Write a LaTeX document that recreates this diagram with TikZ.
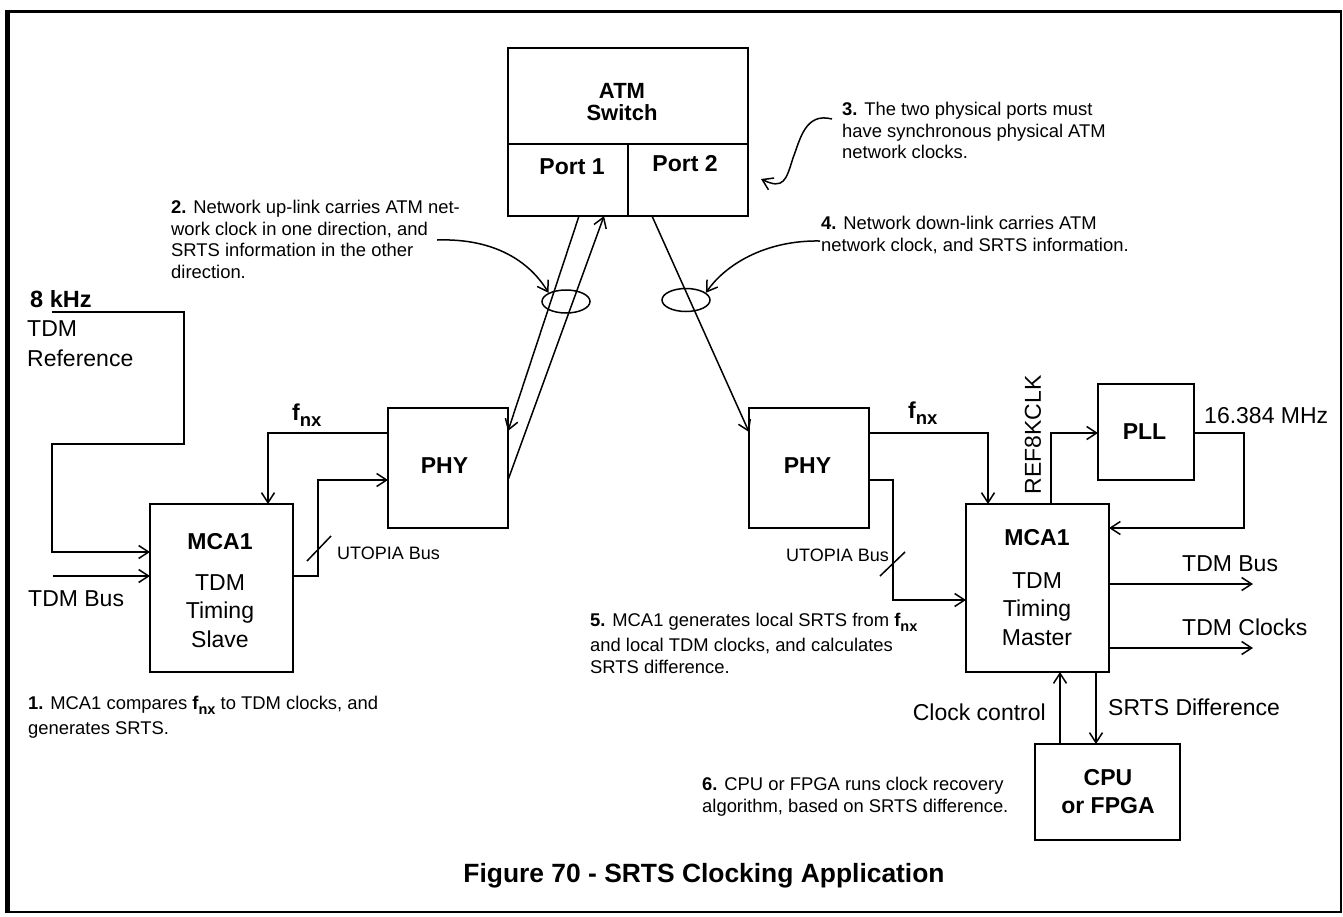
\documentclass[tikz,border=0pt]{standalone}
\usepackage{fontspec}
\setmainfont{Liberation Sans}
\usetikzlibrary{arrows.meta,shapes.geometric}
\newcommand{\fnxlbl}[2]{\textbf{f\raisebox{-#2}{\fontsize{#1}{#1}\selectfont nx}}}
\tikzset{
  box/.style={draw, line width=2pt, inner sep=0pt, outer sep=0pt, rectangle},
  conn/.style={line width=1.5pt},
  arr/.style={conn, -{Straight Barb[length=10pt,width=13pt]}},
  big/.style={font=\fontsize{23}{28.5}\selectfont, inner sep=0pt},
  bigb/.style={font=\fontsize{23}{28.5}\selectfont\bfseries, inner sep=0pt},
  note/.style={font=\fontsize{18.4}{21.5}\selectfont, inner sep=0pt, align=left, anchor=north west},
  small/.style={font=\fontsize{18}{21.5}\selectfont, inner sep=0pt},
  oval/.style={draw, ellipse, line width=1.5pt, inner sep=0pt, minimum width=48pt, minimum height=23pt}
}
\begin{document}
\begin{tikzpicture}[x=1pt,y=-1pt]
\useasboundingbox (0,0) rectangle (1343,916);
\fill[white] (0,0) rectangle (1343,916);
% frame
\draw[line width=2pt] (9,11.5) rectangle (1341,911.5);
\draw[line width=5pt] (7.5,9.5) -- (7.5,913);
\draw[line width=3.5pt] (5,11.5) -- (1342,11.5);

% ATM switch
\node[box, minimum width=240pt, minimum height=96pt] (atm) at (628,96) {};
\node[box, minimum width=120pt, minimum height=72pt] (port1) at (568,180) {};
\node[box, minimum width=120pt, minimum height=72pt] (port2) at (688,180) {};
\node[bigb, font=\fontsize{22}{22}\selectfont\bfseries, align=center, anchor=north] (atmtxt) at (622,82.8) {ATM\\Switch};
\node[bigb, anchor=base] (p1txt) at (572,174) {Port 1};
\node[bigb, anchor=base] (p2txt) at (685,171.5) {Port 2};

% PHYs
\node[box, minimum width=120pt, minimum height=120pt] (phyL) at (448,468) {};
\node[bigb, anchor=base] (phyLtxt) at (444.5,473.2) {PHY};
\node[box, minimum width=120pt, minimum height=120pt] (phyR) at (809,468) {};
\node[bigb, anchor=base] (phyRtxt) at (807.5,473.2) {PHY};

% MCA1 boxes
\node[box, minimum width=143pt, minimum height=168pt] (mcaL) at (221.5,588) {};
\node[big, align=center, anchor=north] (mcaLtxt) at (220,532.8) {\textbf{MCA1}\\[12.5pt]TDM\\Timing\\Slave};
\node[box, minimum width=143pt, minimum height=168pt] (mcaR) at (1037.5,588) {};
\node[big, align=center, anchor=north] (mcaRtxt) at (1037,528.8) {\textbf{MCA1}\\[14.5pt]TDM\\Timing\\Master};

% PLL
\node[box, minimum width=96pt, minimum height=96pt] (pll) at (1146,432) {};
\node[bigb, anchor=base] (plltxt) at (1144.5,439) {PLL};

% CPU
\node[box, minimum width=145pt, minimum height=96pt] (cpu) at (1107.5,792) {};
\node[bigb, align=center, anchor=north] (cputxt) at (1108,768.8) {CPU\\or FPGA};

% ellipses
\node[oval] (el1) at (566,301.5) {};
\node[oval] (el2) at (686,300) {};

% left side labels
\node[bigb, font=\fontsize{23.5}{28}\selectfont\bfseries, anchor=base west] (khz) at (30,307.3) {8 kHz};
\node[big, anchor=base west] (tdmref1) at (27,336.2) {TDM};
\node[big, anchor=base west] (tdmref2) at (27,366.2) {Reference};
\node[big, anchor=base west] (tdmbusL) at (28,606.2) {TDM Bus};
\node[small, anchor=base west] (utoL) at (337,559.5) {UTOPIA Bus};
\node[big, anchor=base west] (fnxL) at (292,420) {\fnxlbl{18.5}{6.5pt}};

% right side labels
\node[big, anchor=base west] (fnxR) at (908,418) {\fnxlbl{18.5}{6.5pt}};
\node[small, anchor=base east] (utoR) at (889,561.5) {UTOPIA Bus};
\node[big, rotate=90] (refclk) at (1033,435) {REF8KCLK};
\node[big, anchor=base west] (mhz) at (1204,423.2) {16.384 MHz};
\node[big, anchor=base west] (tdmbusR) at (1182,571.2) {TDM Bus};
\node[big, anchor=base west] (tdmclk) at (1182,635.2) {TDM Clocks};
\node[big, anchor=base east] (clkctl) at (1046,720.2) {Clock control};
\node[big, anchor=base west] (srtsd) at (1108,715.2) {SRTS Difference};

% annotations
\node[note] (n2) at (171,200.4) {\textbf{2.} Network up-link carries ATM net-\\work clock in one direction, and\\SRTS information in the other\\direction.};
\node[note] (n3) at (842,102.4) {\textbf{3.} The two physical ports must\\have synchronous physical ATM\\network clocks.};
\node[note] (n4) at (821,216.4) {\textbf{4.} Network down-link carries ATM\\network clock, and SRTS information.};
\node[note] (n5) at (590,613.4) {\textbf{5.} MCA1 generates local SRTS from \fnxlbl{14.5}{5pt}\\[3.5pt]and local TDM clocks, and calculates\\SRTS difference.};
\node[note] (n1) at (28,696.4) {\textbf{1.} MCA1 compares \fnxlbl{14.5}{5pt} to TDM clocks, and\\[3.5pt]generates SRTS.};
\node[note] (n6) at (702,777.4) {\textbf{6.} CPU or FPGA runs clock recovery\\algorithm, based on SRTS difference.};

% caption
\node[inner sep=0pt, font=\fontsize{26.4}{30}\selectfont\bfseries, anchor=base] (cap) at (704,882.5) {Figure 70 - SRTS Clocking Application};

% connectors left
\coordinate (refstart) at (52,312);
\draw[arr] (refstart) -- (184,312) -- (184,444) -- (52,444) -- (52,552) -- (mcaL.west |- 0,552);
\coordinate (tdmin) at (53,576);
\draw[arr] (tdmin) -- (mcaL.west |- 0,576);
\draw[arr] (phyL.west |- 0,433) -| (268,0 |- mcaL.north);
\draw[arr] (mcaL.east |- 0,576) -- (318,576) -- (318,480) -- (phyL.west |- 0,480);
\draw[conn] (307,561) -- (331,536);

% links
\draw[arr] (579,0 |- port1.south) -- (phyL.east |- 0,431);
\draw[arr] (phyL.east |- 0,480) -- (604,0 |- port1.south);
\draw[arr] (652,0 |- port2.south) -- (phyR.west |- 0,432);

% connectors right
\draw[arr] (phyR.east |- 0,433) -| (988,0 |- mcaR.north);
\draw[arr] (phyR.east |- 0,480) -- (893,480) -- (893,600) -- (mcaR.west |- 0,600);
\draw[conn] (880,576) -- (905,552);
\draw[arr] (1051,0 |- mcaR.north) |- (pll.west |- 0,433);
\draw[arr] (pll.east |- 0,433) -- (1244,433) -- (1244,528) -- (mcaR.east |- 0,528);
\coordinate (busout) at (1253,584);
\coordinate (clkout) at (1253,648);
\draw[arr] (mcaR.east |- 0,584) -- (busout);
\draw[arr] (mcaR.east |- 0,648) -- (clkout);
\draw[arr] (1060,0 |- cpu.north) -- (1060,0 |- mcaR.south);
\draw[arr] (1096,0 |- mcaR.south) -- (1096,0 |- cpu.north);

% annotation arrows
\coordinate (a2s) at (437,240);
\draw[arr] (a2s) .. controls (495,238) and (530,262) .. (el1.north west);
\coordinate (a4s) at (820,241);
\draw[arr] (a4s) .. controls (765,240) and (725,265) .. (el2.20);
\coordinate (a3s) at (832,119);
\coordinate (a3e) at (761,179);
\draw[arr] (a3s) .. controls (805,112) and (800,140) .. (793,158) .. controls (786,180) and (784,190) .. (a3e);
\end{tikzpicture}
\end{document}
